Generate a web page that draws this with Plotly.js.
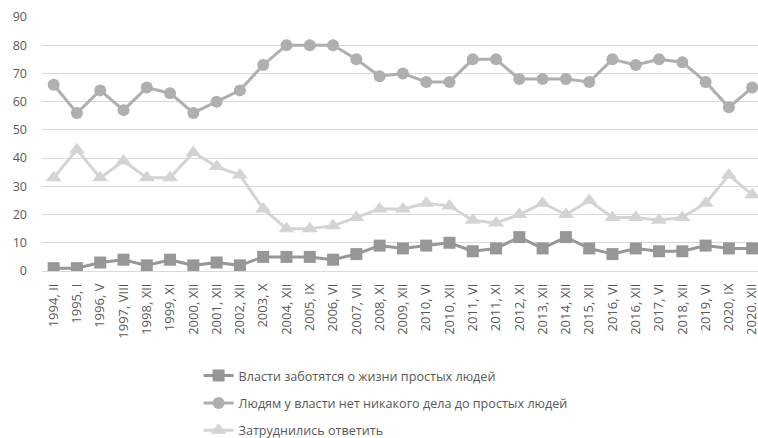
<!DOCTYPE html>
<html>
<head>
<meta charset="utf-8">
<script src="https://cdn.plot.ly/plotly-3.0.1.min.js"></script>
<style>html,body{margin:0;padding:0;background:#fff;overflow:hidden;width:758px;height:438px;}#wrap{width:758px;height:438px;overflow:hidden;}#chart{width:758px;height:460px;}</style>
</head>
<body>
<div id="wrap"><div id="chart"></div></div>
<script>
var categories = ["1994, II","1995, I","1996, V","1997, VIII","1998, XII","1999, XI","2000, XII","2001, XII","2002, XII","2003, X","2004, XII","2005, IX","2006, VI","2007, VII","2008, XI","2009, XII","2010, VI","2010, XII","2011, VI","2011, XI","2012, XI","2013, XII","2014, XII","2015, XII","2016, VI","2016, XII","2017, VI","2018, XII","2019, VI","2020, IX","2020. XII"];
var careValues = [1,1,3,4,2,4,2,3,2,5,5,5,4,6,9,8,9,10,7,8,12,8,12,8,6,8,7,7,9,8,8];
var noCareValues = [66,56,64,57,65,63,56,60,64,73,80,80,80,75,69,70,67,67,75,75,68,68,68,67,75,73,75,74,67,58,65];
var hardValues = [33,43,33,39,33,33,42,37,34,22,15,15,16,19,22,22,24,23,18,17,20,24,20,25,19,19,18,19,24,34,27];
var seriesNames = ["Власти заботятся о жизни простых людей","Людям у власти нет никакого дела до простых людей","Затруднились ответить"];
var yTicks = [0,10,20,30,40,50,60,70,80,90];

var idx = categories.map(function(_, i){ return i; });
function tr(vals, name, color, symbol, size, grp){
  return {x: idx, y: vals, name: name, type: 'scatter', mode: 'lines+markers',
    legendgroup: grp,
    line: {color: color, width: 3},
    marker: {color: color, symbol: symbol, size: size},
    hoverinfo: 'skip'};
}
var data = [
  tr(careValues, seriesNames[0], '#979797', 'square', 12, 'a'),
  tr(noCareValues, seriesNames[1], '#afafaf', 'circle', 12, 'b'),
  tr(hardValues, seriesNames[2], '#d4d4d4', 'triangle-up', 14, 'c')
];
var ff = 'Open Sans, sans-serif';
var layout = {
  width: 758, height: 460,
  margin: {l: 42, r: 0, t: 17, b: 189},
  paper_bgcolor: '#fff', plot_bgcolor: '#fff',
  font: {family: ff, size: 12, color: '#595959'},
  showlegend: true,
  legend: {x: 0.2187, y: -0.354, xanchor: 'left', yanchor: 'top',
    orientation: 'v', tracegroupgap: 8,
    font: {family: ff, size: 12.6, color: '#595959'}, bgcolor: 'rgba(0,0,0,0)'},
  xaxis: {tickmode: 'array', tickvals: idx, ticktext: categories, tickangle: -90,
    range: [-0.5, 30.25], showgrid: false, zeroline: false, showline: false,
    ticks: '', ticklabelstandoff: 9, ticklabeloverflow: 'allow',
    tickfont: {family: ff, size: 13, color: '#595959'}},
  yaxis: {range: [0, 90], tickmode: 'array', tickvals: yTicks, showgrid: true,
    gridcolor: '#d9d9d9', gridwidth: 1, zeroline: true, zerolinecolor: '#d9d9d9',
    showline: false, ticks: '', ticklabelstandoff: 14,
    tickfont: {family: ff, size: 12.5, color: '#595959'}}
};
Plotly.newPlot('chart', data, layout, {displayModeBar: false, staticPlot: true});
</script>
</body>
</html>
